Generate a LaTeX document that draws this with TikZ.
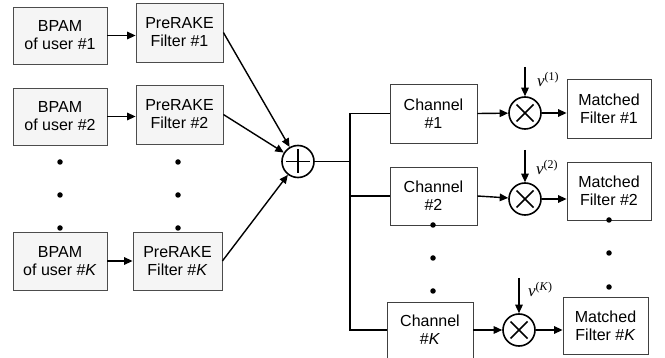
\documentclass[tikz,border=0pt]{standalone}
\usepackage{fontspec}
\setmainfont{Liberation Sans}
\newfontfamily\tnr{Liberation Serif}
\usetikzlibrary{arrows.meta,calc}
\begin{document}
\begin{tikzpicture}[x=1pt,y=-1pt,
  every node/.style={font=\fontsize{16}{18}\selectfont, inner sep=0pt},
  gbox/.style={draw=black!70, line width=0.8pt, fill=black!4, align=center},
  wbox/.style={draw=black!75, line width=0.8pt, fill=white, align=center},
  opc/.style={draw=black, line width=1.6pt, circle, minimum size=32pt},
  conn/.style={line width=1.4pt, -{Triangle[length=8.5pt,width=7.5pt]}},
  wire/.style={line width=1.4pt},
  dotm/.style={circle, fill=black, minimum size=5.5pt},
  vlab/.style={font=\tnr\fontsize{17}{17}\selectfont, anchor=base west}]
\useasboundingbox (0,0) rectangle (665,358);
% left column
\node[gbox, minimum width=94pt, minimum height=57pt] (b1) at (60,35.5) {BPAM\\of user \#1};
\node[gbox, minimum width=94pt, minimum height=57pt] (b2) at (60,116.5) {BPAM\\of user \#2};
\node[gbox, minimum width=94pt, minimum height=58pt] (bK) at (60,261) {BPAM\\of user \#\textit{K}};
\node[gbox, minimum width=87pt, minimum height=59pt] (p1) at (179.5,32.5) {PreRAKE\\Filter \#1};
\node[gbox, minimum width=87pt, minimum height=59pt] (p2) at (179.5,114.5) {PreRAKE\\Filter \#2};
\node[gbox, minimum width=89pt, minimum height=58pt] (pK) at (177.5,261) {PreRAKE\\Filter \#\textit{K}};
% dots
\node[dotm] (d1) at (60,162) {};
\node[dotm] (d2) at (60,195) {};
\node[dotm] (d3) at (60,228) {};
\node[dotm] (d4) at (178,162) {};
\node[dotm] (d5) at (178,195) {};
\node[dotm] (d6) at (178,228) {};
% arrows
\draw[conn] (b1.east) -- (b1.east -| p1.west);
\draw[conn] (b2.east) -- (b2.east -| p2.west);
\draw[conn] (bK.east) -- (bK.east -| pK.west);
% sum
\node[opc] (sum) at (298,161.5) {};
\draw[line width=1.6pt] ($(sum.center)+(-12,0)$) -- ($(sum.center)+(12,0)$)
  ($(sum.center)+(0,-12)$) -- ($(sum.center)+(0,12)$);
\draw[conn] (p1.east) -- (sum);
\draw[conn] (p2.east) -- (sum);
\draw[conn] (pK.east) -- (sum);
% bus
\coordinate (j) at (350,161.5);
\node[wbox, minimum width=87pt, minimum height=59pt] (c1) at (433.5,113.5) {Channel\\\#1};
\node[wbox, minimum width=87pt, minimum height=58pt] (c2) at (433.5,196) {Channel\\\#2};
\node[wbox, minimum width=86pt, minimum height=56pt] (cK) at (430,330) {Channel\\\#\textit{K}};
\draw[wire] (sum.east) -- (j);
\draw[wire] (c1.west) -| (j) |- (cK.west);
\draw[wire] (j |- c2.west) -- (c2.west);
% channel dots
\node[dotm] (e1) at (433,225) {};
\node[dotm] (e2) at (433,258) {};
\node[dotm] (e3) at (433,291) {};
% multipliers
\node[opc] (m1) at (525,113) {};
\node[opc] (m2) at (525,199) {};
\node[opc] (mK) at (519,330) {};
\foreach \m in {m1,m2,mK}{
  \draw[line width=1.6pt] ($(\m.center)+(-8.5,-8.5)$) -- ($(\m.center)+(8.5,8.5)$)
    ($(\m.center)+(-8.5,8.5)$) -- ($(\m.center)+(8.5,-8.5)$);
}
\draw[conn] (c1.east) -- (m1);
\draw[conn] (c2.east) -- (m2);
\draw[conn] (cK.east) -- (mK);
% matched filters
\node[wbox, minimum width=84pt, minimum height=59pt] (f1) at (609,108.5) {Matched\\Filter \#1};
\node[wbox, minimum width=84pt, minimum height=58pt] (f2) at (609,191) {Matched\\Filter \#2};
\node[wbox, minimum width=85pt, minimum height=57pt] (fK) at (605.5,325.5) {Matched\\Filter \#\textit{K}};
\draw[conn] (m1.east) -- (m1.east -| f1.west);
\draw[conn] (m2.east) -- (m2.east -| f2.west);
\draw[conn] (mK.east) -- (mK.east -| fK.west);
\node[dotm] (g1) at (609,220) {};
\node[dotm] (g2) at (609,253) {};
\node[dotm] (g3) at (609,287) {};
% noise inputs
\coordinate (t1) at (525,67);
\coordinate (t2) at (525,150);
\coordinate (tK) at (519,278);
\draw[conn] (t1) -- (m1.north);
\draw[conn] (t2) -- (m2.north);
\draw[conn] (tK) -- (mK.north);
\node[vlab] (v1) at (537,87) {\textit{v}\textsuperscript{(1)}};
\node[vlab] (v2) at (536,175) {\textit{v}\textsuperscript{(2)}};
\node[vlab] (vK) at (528,297) {\textit{v}\textsuperscript{(\textit{K})}};
\end{tikzpicture}
\end{document}
